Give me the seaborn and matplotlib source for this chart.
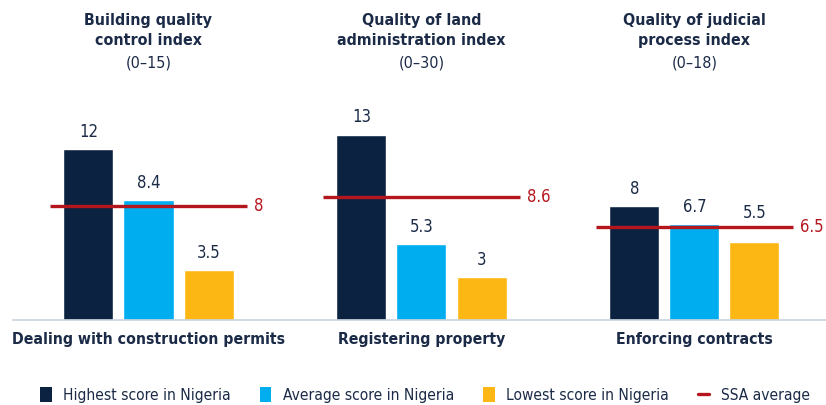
import pandas as pd
import matplotlib.pyplot as plt
import seaborn as sns
from matplotlib.patches import Patch
from matplotlib.lines import Line2D


# =========================
# Data
# =========================

indicators = [
    "Dealing with construction permits",
    "Registering property",
    "Enforcing contracts",
]

index_titles = [
    "Building quality\ncontrol index",
    "Quality of land\nadministration index",
    "Quality of judicial\nprocess index",
]

index_ranges = ["(0\u201315)", "(0\u201330)", "(0\u201318)"]

series = [
    "Highest score in Nigeria",
    "Average score in Nigeria",
    "Lowest score in Nigeria",
]

highest = [12, 13, 8]
average = [8.4, 5.3, 6.7]
lowest = [3.5, 3, 5.5]
ssa_average = [8, 8.6, 6.5]

colors = ["#0B2341", "#00AEEF", "#FDB714"]
red = "#B5161E"
text_color = "#1B2B47"


data = pd.DataFrame({
    "indicator": indicators * 3,
    "series": [s for s in series for _ in indicators],
    "score": highest + average + lowest,
})


# =========================
# Plot
# =========================

sns.set_style("white")
plt.rcParams["font.family"] = ["DejaVu Sans"]
plt.rcParams["font.stretch"] = "condensed"

fig = plt.figure(figsize=(8.26, 4.05), dpi=100)
ax = fig.add_axes([0, 85 / 405, 1, 320 / 405])

sns.barplot(
    data=data,
    x="indicator",
    y="score",
    hue="series",
    palette=colors,
    saturation=1,
    width=0.66,
    gap=0.167,
    legend=False,
    ax=ax,
)

ax.set_xlim(-0.544, 2.482)
ax.set_ylim(0, 22.45)

for container in ax.containers:
    labels = ax.bar_label(
        container,
        fmt="%g",
        padding=6,
        fontsize=12,
        color=text_color,
    )
    # lift the label sitting on the SSA line (Enforcing contracts, lowest)
    if container is ax.containers[2]:
        labels[2].xyann = (0, 14)

# SSA average lines
for i, value in enumerate(ssa_average):
    ax.hlines(value, i - 0.36, i + 0.36, color=red, linewidth=2.4, zorder=5)
    ax.text(
        i + 0.385, value, f"{value:g}",
        ha="left", va="center", fontsize=12, color=red,
    )

# panel titles and category labels
for i in range(len(indicators)):
    ax.text(
        i, 20.3, index_titles[i],
        ha="center", va="center", fontsize=11.4,
        fontweight="bold", color=text_color, linespacing=1.45,
    )
    ax.text(
        i, 18.03, index_ranges[i],
        ha="center", va="center", fontsize=11.5, color=text_color,
    )
    ax.text(
        i, -1.40, indicators[i],
        ha="center", va="center", fontsize=11.3,
        fontweight="bold", color=text_color, clip_on=False,
    )

ax.set_xlabel("")
ax.set_ylabel("")
ax.set_xticks([])
ax.set_yticks([])
sns.despine(ax=ax, left=True, top=True, right=True)
ax.spines["bottom"].set_color("#C9D3E0")
ax.spines["bottom"].set_linewidth(1.2)
ax.spines["bottom"].set_bounds(-0.497, 2.482)

# legend
handles = [Patch(facecolor=c, edgecolor="none") for c in colors]
handles.append(Line2D([0], [0], color=red, linewidth=2.4))
fig.legend(
    handles,
    series + ["SSA average"],
    loc="center",
    bbox_to_anchor=(425 / 826, 10 / 405),
    ncol=4,
    frameon=False,
    fontsize=11.2,
    handlelength=0.75,
    handleheight=1.1,
    handletextpad=0.75,
    columnspacing=1.85,
    labelcolor=text_color,
)

plt.savefig("out.png", dpi=100)
plt.close()
